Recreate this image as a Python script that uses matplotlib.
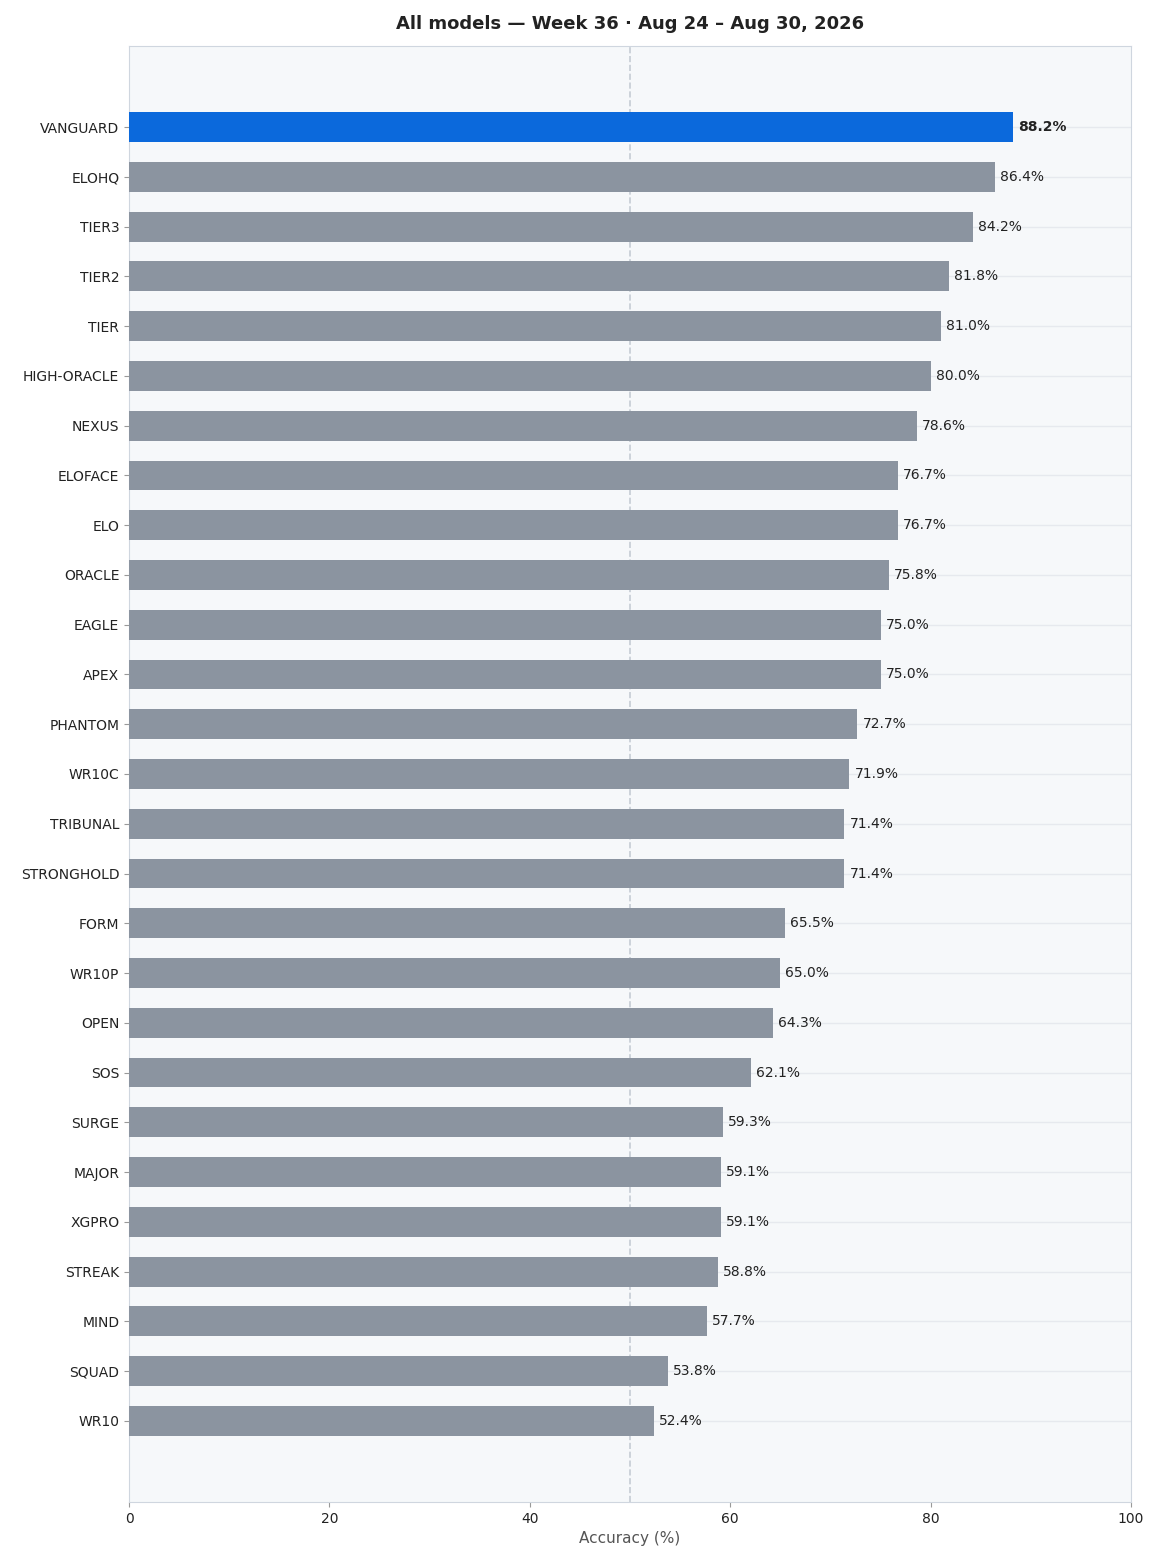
import matplotlib
matplotlib.use("Agg")
import matplotlib.pyplot as plt

models = ["VANGUARD","ELOHQ","TIER3","TIER2","TIER","HIGH-ORACLE","NEXUS","ELOFACE","ELO","ORACLE",
          "EAGLE","APEX","PHANTOM","WR10C","TRIBUNAL","STRONGHOLD","FORM","WR10P","OPEN","SOS",
          "SURGE","MAJOR","XGPRO","STREAK","MIND","SQUAD","WR10"]
accuracy = [88.2,86.4,84.2,81.8,81.0,80.0,78.6,76.7,76.7,75.8,75.0,75.0,72.7,71.9,71.4,71.4,
            65.5,65.0,64.3,62.1,59.3,59.1,59.1,58.8,57.7,53.8,52.4]
highlight = "VANGUARD"

fig = plt.figure(figsize=(11.57, 15.65), dpi=100)
ax = fig.add_axes([129/1157, 1-1502/1565, (1131-129)/1157, (1502-46)/1565])
ax.set_facecolor("#f6f8fa")
n = len(models)
ys = list(range(n))
colors = ["#0b69dc" if m == highlight else "#8b94a0" for m in models]
ax.barh(ys, accuracy, height=0.6, color=colors, zorder=3)
for y in ys:
    ax.axhline(y, color="#e6e9ee", lw=1, zorder=1)
ax.axvline(50, color="#c5ccd4", ls="--", lw=1.2, zorder=2)
for y, v, m in zip(ys, accuracy, models):
    ax.text(v + 0.5, y, f"{v:.1f}%", va="center", ha="left", fontsize=10, color="#222",
            fontweight="bold" if m == highlight else "normal", zorder=4)
ax.set_yticks(ys)
ax.set_yticklabels(models, fontsize=10, color="#222")
ax.set_ylim(n - 1 + 1.63, -1.63)
ax.set_xlim(0, 100)
ax.set_xticks(range(0, 101, 20))
ax.tick_params(axis="x", labelsize=10, colors="#222")
ax.tick_params(axis="both", color="#999")
ax.set_xlabel("Accuracy (%)", fontsize=11, color="#555")
for s in ax.spines.values():
    s.set_color("#cfd6df")
ax.set_title("All models — Week 36 · Aug 24 – Aug 30, 2026", fontsize=13, fontweight="bold",
             color="#222", pad=12)
fig.savefig("out.png", dpi=100)
